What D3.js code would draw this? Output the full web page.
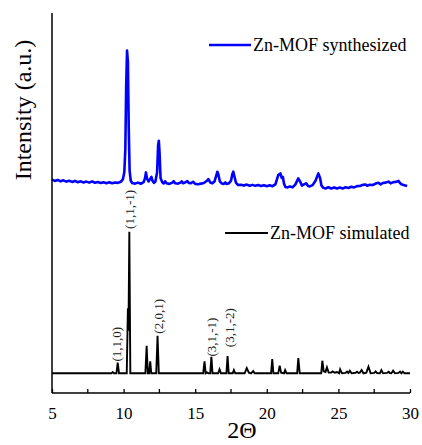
<!DOCTYPE html>
<html>
<head>
<meta charset="utf-8">
<script src="https://cdn.jsdelivr.net/npm/d3@7"></script>
<style>
  html, body { margin: 0; padding: 0; background: #fff; }
  svg { display: block; }
</style>
</head>
<body>
<svg id="chart" width="422" height="445"></svg>
<script>
// Simulated powder pattern (2θ, relative intensity)
const simTheta = [5.0, 9.15, 9.24, 9.33, 9.5, 9.59, 9.68, 10.22, 10.3, 10.34, 10.4, 10.47,
  11.52, 11.61, 11.69, 11.78, 11.86, 11.93, 12.28, 12.37, 12.46,
  15.56, 15.65, 15.73, 15.82, 15.92, 16.05, 16.13, 16.21, 16.6, 16.7, 16.8,
  17.18, 17.26, 17.34, 17.62, 17.7, 17.8, 18.45, 18.6, 18.75, 18.9, 19.05, 19.15,
  20.3, 20.38, 20.46, 20.8, 20.9, 21.0, 21.2, 21.28, 21.38, 22.12, 22.2, 22.3,
  23.8, 23.88, 23.97, 24.1, 24.2, 24.32, 24.5, 24.6, 24.75, 24.9, 25.05, 25.12, 25.25,
  25.5, 25.6, 25.7, 25.8, 25.92, 26.2, 26.3, 26.4, 26.5, 26.62, 26.75, 26.95, 27.1, 27.25,
  27.5, 27.6, 27.7, 27.9, 28.0, 28.12, 28.4, 28.5, 28.6, 28.7, 28.82, 28.95, 29.2, 29.3, 29.4, 29.5, 29.62, 30.0];
const simIntensity = [0, 0, 0.9, 0, 0, 7.5, 0, 0, 46, 30, 100, 0,
  0, 19.5, 0, 0, 8.5, 0, 0, 26.5, 0,
  0, 8.5, 0, 0.6, 0, 0, 11.7, 0, 0, 2.8, 0,
  0, 12.2, 0, 0, 2.3, 0, 0, 3.7, 0.5, 0, 1.6, 0,
  0, 10, 0, 0, 5.4, 0.4, 0, 2.3, 0, 0, 10.8, 0,
  0, 8.9, 1.5, 1.0, 4.2, 0.5, 0.6, 1.4, 0.4, 0.9, 0, 2.8, 0,
  0.3, 1.2, 0.2, 1.8, 0, 0.4, 1.2, 0.3, 0.5, 2.3, 0, 0.5, 4.7, 0,
  0.3, 1.3, 0.2, 0, 2.3, 0, 0.3, 1.1, 0.2, 0, 1.8, 0, 0.3, 1.2, 0, 1.2, 0, 0];

// Measured pattern of the synthesized sample (2θ, relative intensity)
const synTheta = [5.0, 5.2, 5.4, 5.6, 5.8, 6.0, 6.2, 6.4, 6.6, 6.8, 7.0, 7.2, 7.4, 7.6, 7.8,
  8.0, 8.2, 8.4, 8.6, 8.8, 9.0, 9.2, 9.4, 9.6, 9.8, 9.95, 10.05, 10.12, 10.18, 10.24, 10.3,
  10.36, 10.42, 10.5, 10.6, 10.8, 11.0, 11.2, 11.4, 11.5, 11.56, 11.64, 11.74, 11.84, 11.94,
  12.02, 12.12, 12.22, 12.34, 12.41, 12.46, 12.51, 12.58, 12.7, 12.8, 12.9, 13.0, 13.2, 13.4,
  13.5, 13.6, 13.8, 14.0, 14.06, 14.15, 14.3, 14.45, 14.55, 14.7, 14.85, 15.0, 15.2, 15.4,
  15.6, 15.8, 15.92, 16.05, 16.2, 16.35, 16.48, 16.55, 16.62, 16.72, 16.85, 17.0, 17.1,
  17.2, 17.35, 17.5, 17.6, 17.66, 17.74, 17.85, 18.0, 18.2, 18.4, 18.6, 18.8, 19.0, 19.2,
  19.4, 19.6, 19.8, 20.0, 20.2, 20.4, 20.6, 20.8, 20.95, 21.04, 21.12, 21.2, 21.3, 21.45,
  21.6, 21.8, 22.0, 22.2, 22.35, 22.45, 22.6, 22.75, 22.88, 23.0, 23.2, 23.4, 23.6, 23.72,
  23.82, 23.95, 24.1, 24.3, 24.5, 24.7, 24.9, 25.1, 25.3, 25.5, 25.7, 25.9, 26.1, 26.3,
  26.5, 26.7, 26.9, 27.0, 27.2, 27.4, 27.6, 27.8, 27.95, 28.1, 28.3, 28.5, 28.65, 28.8,
  29.0, 29.2, 29.3, 29.4, 29.6, 29.8, 30.0];
const synIntensity = [8.8, 7.9, 8.6, 7.6, 8.3, 7.4, 8.0, 7.2, 7.9, 7.0, 7.6, 6.8, 7.4, 6.7, 7.6,
  6.6, 7.1, 6.4, 7.0, 6.3, 6.9, 6.2, 6.8, 6.5, 7.3, 9, 14, 30, 75, 100, 92,
  45, 15, 8, 6.4, 6.0, 6.7, 5.9, 7.0, 10, 13.9, 9.5, 7.5, 9, 10.8,
  8, 6.5, 7.5, 14, 33, 36.3, 28, 10, 7, 6.1, 7.6, 6.3, 5.8, 6.7,
  7.7, 6.2, 6.0, 6.9, 7.6, 6.3, 6.8, 7.7, 6.5, 6.2, 7.3, 5.8, 5.6, 6.0,
  6.4, 7.8, 9.2, 6.8, 6.2, 7.5, 12, 14.4, 12.5, 7.5, 6.1, 5.8, 6.8,
  5.7, 6.2, 8, 13, 14.4, 11, 6.5, 5.0, 5.2, 4.6, 5.3, 4.5, 5.1, 4.4,
  5.0, 4.3, 4.9, 4.2, 4.8, 4.2, 5.5, 12, 13.2, 10, 10.8, 6, 3.6,
  3.3, 4.0, 3.4, 5.5, 9.7, 7, 4.6, 5.4, 6.2, 4.3, 4.0, 4.9, 8, 13.2,
  10, 4.5, 3.0, 2.6, 3.4, 2.5, 3.3, 2.5, 3.2, 2.6, 3.4, 2.9, 3.8, 3.3,
  4.2, 4.3, 5.1, 5.4, 4.5, 5.2, 5.0, 6.0, 6.6, 5.4, 6.4, 6.7, 7.4, 6.2,
  6.9, 7.2, 7.9, 6.4, 5.5, 4.9, 4.3];

// Vertical offset that stacks the measured pattern above the simulated one
const synOffset = 128;

// Miller-index labels on the simulated reflections
const hklLabels = ["(1,1,0)", "(1,1,-1)", "(2,0,1)", "(3,1,-1)", "(3,1,-2)"];
const hklTheta = [9.52, 10.4, 12.4, 16.13, 17.36];
const hklBase = [8.3, 102, 28, 11.8, 18.5];

// Axis ticks
const majorTicks = [5, 10, 15, 20, 25, 30];
const minorTicks = [7.5, 12.5, 17.5, 22.5, 27.5];

const serif = "Liberation Serif";

const svg = d3.select("#chart");

const x = d3.scaleLinear().domain([5, 30]).range([52, 410]);
const y = d3.scaleLinear().domain([-13.9, 254.5]).range([393, 13]);

const line = d3.line().x(d => x(d[0])).y(d => y(d[1]));

const simData = simTheta.map((t, i) => [t, simIntensity[i]]);
const synData = synTheta.map((t, i) => [t, synIntensity[i] + synOffset]);

// Patterns
svg.append("path")
  .datum(synData)
  .attr("d", line)
  .attr("fill", "none")
  .attr("stroke", "#0000ff")
  .attr("stroke-width", 2.6)
  .attr("stroke-linejoin", "round");

svg.append("path")
  .datum(simData)
  .attr("d", line)
  .attr("fill", "none")
  .attr("stroke", "#000")
  .attr("stroke-width", 1.9)
  .attr("stroke-linejoin", "miter");

// x axis: ticks point inward (upward)
const xAxis = d3.axisBottom(x)
  .tickValues(majorTicks)
  .tickSize(-4)
  .tickPadding(14)
  .tickFormat(d3.format("d"));

const gx = svg.append("g")
  .attr("transform", `translate(0,${y.range()[0]})`)
  .call(xAxis);
gx.attr("font-family", serif).attr("font-size", 17);
gx.select(".domain").attr("stroke-width", 1.5).attr("d", `M${x(5)},0H${x(30)}`);
gx.selectAll(".tick line").attr("stroke-width", 1.3);
gx.selectAll(".tick text").attr("fill", "#000").attr("font-family", serif);

gx.selectAll(".minor")
  .data(minorTicks)
  .join("line")
  .attr("class", "minor")
  .attr("x1", d => x(d)).attr("x2", d => x(d))
  .attr("y1", 0).attr("y2", -4)
  .attr("stroke", "#000")
  .attr("stroke-width", 1.3);

// y axis: bare line, no ticks
svg.append("line")
  .attr("x1", x(5)).attr("x2", x(5))
  .attr("y1", y.range()[1]).attr("y2", y.range()[0])
  .attr("stroke", "#000")
  .attr("stroke-width", 1.5);

// Axis titles
svg.append("text")
  .attr("x", 242)
  .attr("y", 438)
  .attr("text-anchor", "middle")
  .attr("font-family", serif)
  .attr("font-size", 24)
  .text("2Θ");

svg.append("text")
  .attr("transform", "translate(31,110) rotate(-90)")
  .attr("text-anchor", "middle")
  .attr("font-family", serif)
  .attr("font-size", 24)
  .text("Intensity (a.u.)");

// Reflection labels
svg.selectAll(".hkl")
  .data(hklLabels)
  .join("text")
  .attr("class", "hkl")
  .attr("transform", (d, i) => `translate(${x(hklTheta[i])},${y(hklBase[i])}) rotate(-90)`)
  .attr("dy", "0.35em")
  .attr("font-family", serif)
  .attr("font-size", 13)
  .attr("fill", "#222")
  .text(d => d);

// Legends
const legends = [
  { name: "Zn-MOF synthesized", color: "#0000ff", width: 2.6, x1: 209, x2: 251, ly: 45 },
  { name: "Zn-MOF simulated", color: "#000", width: 2, x1: 225, x2: 268, ly: 233 }
];
legends.forEach(l => {
  svg.append("line")
    .attr("x1", l.x1).attr("x2", l.x2)
    .attr("y1", l.ly).attr("y2", l.ly)
    .attr("stroke", l.color)
    .attr("stroke-width", l.width);
  svg.append("text")
    .attr("x", l.x2 + 2)
    .attr("y", l.ly + 6)
    .attr("font-family", serif)
    .attr("font-size", 18)
    .attr("fill", "#000")
    .text(l.name);
});
</script>
</body>
</html>
